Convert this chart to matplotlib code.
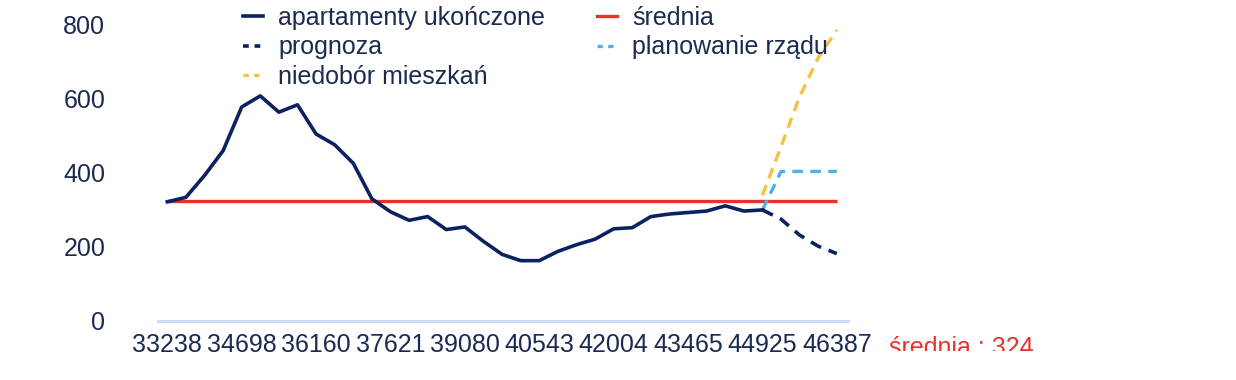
import numpy as np
import matplotlib
matplotlib.use('Agg')
from matplotlib import pyplot as plt
from matplotlib.lines import Line2D
from matplotlib.transforms import Bbox

plt.rcParams['font.family'] = ['Liberation Sans', 'DejaVu Sans']

# data
years = list(range(1991, 2028))
tick_labels = ['33238', '34698', '36160', '37621', '39080',
               '40543', '42004', '43465', '44925', '46387']
completed = [322, 334, 393, 460, 578, 608, 564, 584, 505, 476,
             426, 330, 295, 272, 282, 247, 254, 215, 180, 163,
             163, 188, 206, 221, 249, 252, 282, 289, 293, 297,
             311, 297, 300]
forecast_years = [2023, 2024, 2025, 2026, 2027]
forecast = [300, 275, 232, 202, 182]
government = [300, 404, 404, 404, 404]
shortage = [340, 471, 606, 711, 786]
mean_value = 324

NAVY = '#0c2260'
RED = '#e5332a'
YELLOW = '#f3c143'
BLUE = '#4eb1ea'
AXIS = '#cadcf6'
TEXT = '#1b2a50'
FS = 18

W, H = 1236, 380
fig = plt.figure(figsize=(W / 100, H / 100), dpi=100)
ax = fig.add_axes([158 / W, (H - 321) / H, (848 - 158) / W, 321 / H])

x0 = years[0]
idx = lambda ys: [y - x0 for y in ys]
dash = (0, (3.2, 2.2))

ax.plot(idx([years[0], years[-1]]), [mean_value, mean_value], color=RED,
        lw=2.4, solid_capstyle='butt', zorder=2)
ax.plot(idx(forecast_years), shortage, color=YELLOW, lw=2.4, ls=dash, zorder=3)
ax.plot(idx(forecast_years), government, color=BLUE, lw=2.4, ls=dash, zorder=3)
ax.plot(idx(forecast_years), forecast, color=NAVY, lw=2.6, ls=dash, zorder=4)
ax.plot(idx(years[:len(completed)]), completed, color=NAVY, lw=2.6, zorder=4)

ax.set_xlim(-0.5, len(years) - 1 + 0.6)
ax.set_ylim(0, 867)
ax.set_yticks([0, 200, 400, 600, 800])
ax.set_xticks(range(0, len(years), 4))
ax.set_xticklabels(tick_labels)
for s in ['top', 'right', 'left']:
    ax.spines[s].set_visible(False)
ax.spines['bottom'].set_color(AXIS)
ax.spines['bottom'].set_linewidth(2.2)
ax.tick_params(axis='y', length=0, pad=38, labelsize=FS, labelcolor=TEXT)
ax.tick_params(axis='x', length=0, pad=9, labelsize=FS, labelcolor=TEXT)

# legend handles (short dashes like the original)
ld = (0, (1.6, 1.6))
handles = [Line2D([], [], color=NAVY, lw=2.6),
           Line2D([], [], color=NAVY, lw=2.6, ls=ld),
           Line2D([], [], color=YELLOW, lw=2.4, ls=ld),
           Line2D([], [], color=RED, lw=2.4),
           Line2D([], [], color=BLUE, lw=2.4, ls=ld)]
labels = ['apartamenty ukończone', 'prognoza', 'niedobór mieszkań',
          'średnia', 'planowanie rządu']
fig.legend(handles, labels, loc='upper left',
           bbox_to_anchor=(243 / W, 0.985), ncol=2, frameon=False,
           fontsize=FS, labelcolor=TEXT, handlelength=0.8,
           handletextpad=0.6, columnspacing=2.1, labelspacing=0.23,
           borderpad=0, borderaxespad=0)

t = fig.text(889 / W, (H - 355) / H, 'średnia : 324', color=RED,
             fontsize=FS, ha='left', va='baseline')
t.set_clip_box(Bbox.from_extents(0, H - 351, W, H))
t.set_clip_on(True)

fig.savefig('out.png', dpi=100)
